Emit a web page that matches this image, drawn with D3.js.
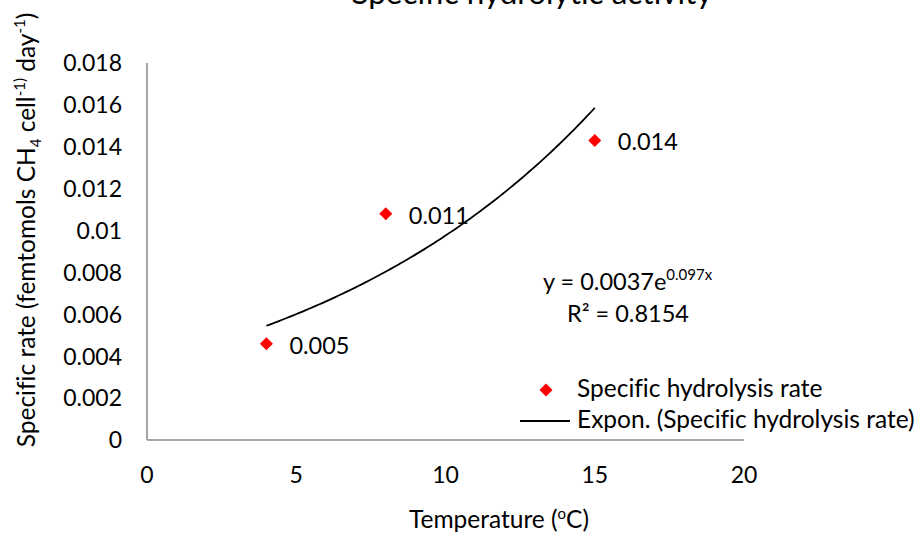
<!DOCTYPE html>
<html><head><meta charset="utf-8">
<script src="https://cdn.jsdelivr.net/npm/d3@7"></script>
<style>
html,body{margin:0;padding:0;background:#fff;}
text{font-family:Lato,"Open Sans",sans-serif;fill:#000;font-variant-ligatures:none;}
</style></head>
<body>
<svg id="chart" width="923" height="536"></svg>
<script>
// Data
const temperatures = [4, 8, 15];
const rates = [0.0046, 0.0108, 0.0143];
const pointLabels = ["0.005", "0.011", "0.014"];
const xTicks = [0, 5, 10, 15, 20];
const yTicks = [0, 0.002, 0.004, 0.006, 0.008, 0.01, 0.012, 0.014, 0.016, 0.018];
const yTickLabels = ["0","0.002","0.004","0.006","0.008","0.01","0.012","0.014","0.016","0.018"];
// Exponential trendline as shown on chart: y = 0.0037 e^(0.097x), drawn from x=4 to x=15
const trendCoefA = [0.0037];
const trendCoefB = [0.097];
const trendRange = [4, 15];

const svg = d3.select("#chart");
const x = d3.scaleLinear().domain([0, 20]).range([147, 744]);
const y = d3.scaleLinear().domain([0, 0.018]).range([440, 63]);

// Title (clipped at top, as in the original)
svg.append("text").attr("x", 532).attr("y", 4).attr("text-anchor", "middle")
  .style("font-size", "31.5px").text("Specific hydrolytic activity");

// Axes
const axisColor = "#898989";
svg.append("line").attr("x1", x(0)).attr("x2", x(0)).attr("y1", y(0.018)).attr("y2", y(0))
  .attr("stroke", axisColor).attr("stroke-width", 1.5);
svg.append("line").attr("x1", x(0)).attr("x2", x(20)).attr("y1", y(0)).attr("y2", y(0))
  .attr("stroke", axisColor).attr("stroke-width", 1.5);

// Y tick labels
svg.append("g").selectAll("text").data(yTicks).join("text")
  .attr("x", 122).attr("y", d => y(d)).attr("dy", "0.36em").attr("text-anchor", "end")
  .style("font-size", "23px").text((d, i) => yTickLabels[i]);

// X tick labels
svg.append("g").selectAll("text").data(xTicks).join("text")
  .attr("x", d => x(d)).attr("y", 483).attr("text-anchor", "middle")
  .style("font-size", "23px").text(d => d);

// Trendline
const trendPts = d3.range(0, 101).map(i => {
  const xv = trendRange[0] + (trendRange[1] - trendRange[0]) * i / 100;
  return [xv, trendCoefA[0] * Math.exp(trendCoefB[0] * xv)];
});
svg.append("path").datum(trendPts)
  .attr("d", d3.line().x(d => x(d[0])).y(d => y(d[1])))
  .attr("fill", "none").attr("stroke", "#000").attr("stroke-width", 1.8);

// Points
const diamond = d3.symbol().type(d3.symbolSquare).size(85);
svg.append("g").selectAll("path").data(temperatures).join("path")
  .attr("d", diamond)
  .attr("transform", (d, i) => `translate(${x(d)},${y(rates[i])}) rotate(45)`)
  .attr("fill", "#ff0000");

// Point labels
svg.append("g").selectAll("text").data(temperatures).join("text")
  .attr("x", d => x(d) + 23).attr("y", (d, i) => y(rates[i]) + 10)
  .style("font-size", "23.5px").text((d, i) => pointLabels[i]);

// Equation
const eq = svg.append("text").attr("x", 543).attr("y", 290).style("font-size", "23.5px");
eq.append("tspan").text("y = 0.0037e");
eq.append("tspan").attr("dy", -10).style("font-size", "15px").text("0.097x");
svg.append("text").attr("x", 567).attr("y", 322).style("font-size", "23.5px").text("R² = 0.8154");

// Legend
svg.append("path").attr("d", diamond)
  .attr("transform", `translate(546,390) rotate(45)`).attr("fill", "#ff0000");
svg.append("text").attr("x", 577).attr("y", 397).style("font-size", "24.5px").text("Specific hydrolysis rate");
svg.append("line").attr("x1", 520).attr("x2", 570).attr("y1", 421).attr("y2", 421)
  .attr("stroke", "#000").attr("stroke-width", 1.8);
svg.append("text").attr("x", 577).attr("y", 428).style("font-size", "24.5px").text("Expon. (Specific hydrolysis rate)");

// Axis titles
svg.append("text").attr("x", 499).attr("y", 528).attr("text-anchor", "middle")
  .style("font-size", "24.5px")
  .html('Temperature (<tspan dy="-9" font-size="15px">o</tspan><tspan dy="9">C)</tspan>');

const yt = svg.append("text").attr("transform", "translate(35,230) rotate(-90)")
  .attr("text-anchor", "middle").style("font-size", "24.5px");
yt.append("tspan").text("Specific rate (femtomols CH");
yt.append("tspan").attr("dy", 6).style("font-size", "15px").text("4");
yt.append("tspan").attr("dy", -6).text(" cell");
yt.append("tspan").attr("dy", -10).style("font-size", "15px").text("-1)");
yt.append("tspan").attr("dy", 10).text(" day");
yt.append("tspan").attr("dy", -10).style("font-size", "15px").text("-1");
yt.append("tspan").attr("dy", 10).text(")");
</script>
</body></html>
